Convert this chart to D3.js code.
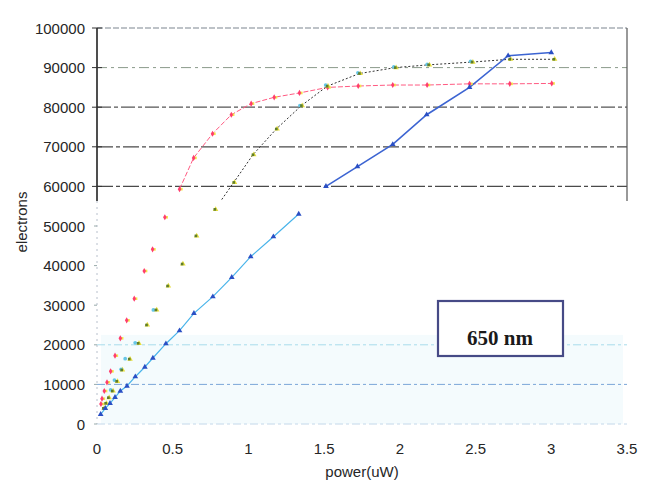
<!DOCTYPE html>
<html><head><meta charset="utf-8">
<script src="https://cdn.jsdelivr.net/npm/d3@7"></script>
<style>body{margin:0;background:#fff}svg{display:block}</style>
</head><body>
<script>
// ---- data ----
const xTicks = [0, 0.5, 1, 1.5, 2, 2.5, 3, 3.5];
const xTickLabels = ["0", "0.5", "1", "1.5", "2", "2.5", "3", "3.5"];
const yTicks = [0, 10000, 20000, 30000, 40000, 50000, 60000, 70000, 80000, 90000, 100000];
const yTickLabels = ["0", "10000", "20000", "30000", "40000", "50000", "60000", "70000", "80000", "90000", "100000"];

const pinkLowerX = [0.026, 0.033, 0.048, 0.066, 0.090, 0.119, 0.154, 0.196, 0.246, 0.312, 0.367, 0.448];
const pinkLowerY = [5050, 6390, 8330, 10530, 13300, 17250, 21640, 26180, 31640, 38640, 44100, 52200];
const pinkUpperX = [0.545, 0.638, 0.763, 0.887, 1.018, 1.17, 1.337, 1.523, 1.725, 1.953, 2.18, 2.46, 2.726, 3.003];
const pinkUpperY = [59300, 67200, 73300, 78100, 80900, 82500, 83600, 85000, 85350, 85600, 85600, 85900, 85900, 86000];

const greenLowerX = [0.042, 0.057, 0.075, 0.101, 0.13, 0.163, 0.213, 0.272, 0.327, 0.389, 0.466, 0.562, 0.653, 0.778];
const greenLowerY = [3960, 5230, 6640, 8330, 10780, 13640, 16400, 20380, 25000, 28800, 34850, 40400, 47500, 54200];
const greenUpperX = [0.778, 0.903, 1.03, 1.184, 1.35, 1.52, 1.733, 1.97, 2.19, 2.477, 2.726, 3.017];
const greenUpperY = [54200, 61000, 68000, 74500, 80400, 85300, 88500, 90000, 90700, 91400, 92100, 92100];

const cyanX = [0.1, 0.125, 0.169, 0.196, 0.262, 0.382, 1.35, 1.52, 1.733, 1.97, 2.19, 2.477];
const cyanY = [8600, 11100, 13800, 16500, 20500, 28800, 80400, 85600, 88700, 90200, 90800, 91600];

const blueLowerX = [0.024, 0.055, 0.086, 0.119, 0.154, 0.198, 0.253, 0.316, 0.369, 0.455, 0.545, 0.64, 0.765, 0.89, 1.015, 1.165, 1.332];
const blueLowerY = [2450, 3960, 5230, 6740, 8330, 9600, 11940, 14390, 16670, 20280, 23560, 27950, 32150, 37040, 42250, 47300, 53030];
const blueUpperX = [1.512, 1.72, 1.953, 2.177, 2.46, 2.715, 3.0];
const blueUpperY = [60000, 65000, 70600, 78100, 85000, 93000, 93800];

const upperGrid = [60000, 70000, 80000, 90000, 100000];
const lowerGrid = [0, 10000, 20000];
const boxLabel = "650 nm";
const xTitle = "power(uW)";
const yTitle = "electrons";

// ---- drawing ----
const W = 660, H = 484;
const L = 97, R = 627, T = 28, B = 424;
const splitY = 201;
const svg = d3.select("body").append("svg").attr("width", W).attr("height", H);
const x = d3.scaleLinear().domain([0, 3.5]).range([L, R]);
const y = d3.scaleLinear().domain([0, 100000]).range([B, T]);
const zip = (xs, ys) => xs.map((v, i) => [v, ys[i]]);

// faint tinted lower region (scan tint)
svg.append("rect").attr("x", L + 4).attr("y", y(22500)).attr("width", R - L - 8).attr("height", B - y(22500))
  .attr("fill", "#f4fbfd");

svg.append("defs").append("clipPath").attr("id", "upclip")
  .append("rect").attr("x", L).attr("y", T - 5).attr("width", R - L + 10).attr("height", splitY - T + 5);

// upper gridlines
const ugStyle = {60000: ["#4a4a4a", "16,3,4,3"], 70000: ["#4a4a4a", "16,3,4,3"], 80000: ["#555", "14,3,4,3"], 90000: ["#8a9a8a", "10,4,3,4"], 100000: ["#7d8590", "6,2"]};
svg.append("g").selectAll("line").data(upperGrid).join("line")
  .attr("x1", L).attr("x2", R).attr("y1", d => y(d)).attr("y2", d => y(d))
  .attr("stroke", d => ugStyle[d][0]).attr("stroke-width", d => d === 90000 ? 1 : 1.2)
  .attr("stroke-dasharray", d => ugStyle[d][1]);
// lower gridlines
svg.append("g").selectAll("line").data(lowerGrid).join("line")
  .attr("x1", L).attr("x2", R).attr("y1", d => y(d)).attr("y2", d => y(d))
  .attr("stroke", d => d === 10000 ? "#7aa6d8" : (d === 0 ? "#c4d8ea" : "#a9dcec")).attr("stroke-width", 1)
  .attr("stroke-dasharray", "8,3,3,3");

// frame
svg.append("line").attr("x1", L).attr("x2", L).attr("y1", T).attr("y2", splitY).attr("stroke", "#222").attr("stroke-width", 1.6);
svg.append("line").attr("x1", L).attr("x2", L).attr("y1", splitY).attr("y2", B).attr("stroke", "#b8c0cc").attr("stroke-width", 1).attr("stroke-dasharray", "2,4");
svg.append("line").attr("x1", R).attr("x2", R).attr("y1", T).attr("y2", splitY).attr("stroke", "#555").attr("stroke-width", 1.2);
svg.append("g").selectAll("line").data(yTicks).join("line")
  .attr("x1", d => d >= 60000 ? L - 5 : L - 3).attr("x2", d => d >= 60000 ? L + 5 : L)
  .attr("y1", d => y(d)).attr("y2", d => y(d))
  .attr("stroke", d => d >= 60000 ? "#333" : "#9aa").attr("stroke-width", 1);

// y tick labels
svg.append("g").selectAll("text").data(yTicks).join("text")
  .attr("x", 85).attr("y", d => y(d) + 5.5).attr("text-anchor", "end")
  .attr("font-family", "Liberation Sans, Arial, sans-serif").attr("font-size", 15).attr("fill", "#262626")
  .text((d, i) => yTickLabels[i]);
// x tick labels
svg.append("g").selectAll("text").data(xTicks).join("text")
  .attr("x", d => x(d)).attr("y", 454).attr("text-anchor", "middle")
  .attr("font-family", "Liberation Sans, Arial, sans-serif").attr("font-size", 15).attr("fill", "#262626")
  .text((d, i) => xTickLabels[i]);
svg.append("text").attr("x", 362).attr("y", 477).attr("text-anchor", "middle")
  .attr("font-family", "Liberation Sans, Arial, sans-serif").attr("font-size", 15).attr("fill", "#262626").text(xTitle);
svg.append("text").attr("transform", "translate(27,222) rotate(-90)").attr("text-anchor", "middle")
  .attr("font-family", "Liberation Sans, Arial, sans-serif").attr("font-size", 15).attr("fill", "#262626").text(yTitle);

// lines
const line = d3.line().x(d => x(d[0])).y(d => y(d[1]));
svg.append("path").datum(zip(blueLowerX, blueLowerY)).attr("d", line)
  .attr("fill", "none").attr("stroke", "#49b4ea").attr("stroke-width", 1.2);
const up = svg.append("g").attr("clip-path", "url(#upclip)");
up.append("path").datum(zip(pinkUpperX, pinkUpperY)).attr("d", line)
  .attr("fill", "none").attr("stroke", "#ff5a82").attr("stroke-width", 1).attr("stroke-dasharray", "5,2");
up.append("path").datum(zip(greenUpperX, greenUpperY)).attr("d", line)
  .attr("fill", "none").attr("stroke", "#333").attr("stroke-width", 1).attr("stroke-dasharray", "2,2");
up.append("path").datum(zip(blueUpperX, blueUpperY)).attr("d", line)
  .attr("fill", "none").attr("stroke", "#3c64d2").attr("stroke-width", 1.6);

// markers
function markers(data, type, size, fill, dx) {
  svg.append("g").selectAll("path").data(data).join("path")
    .attr("transform", d => `translate(${x(d[0]) + dx},${y(d[1])})`)
    .attr("d", d3.symbol().type(type).size(size)).attr("fill", fill);
}
const pinkAll = zip(pinkLowerX, pinkLowerY).concat(zip(pinkUpperX, pinkUpperY));
const greenAll = zip(greenLowerX, greenLowerY).concat(zip(greenUpperX.slice(1), greenUpperY.slice(1)));
markers(pinkAll, d3.symbolSquare, 7, "#f2e84a", 1.8);
markers(pinkAll, d3.symbolDiamond, 11, "#ff3d6e", 0);
markers(greenAll, d3.symbolTriangle, 13, "#e6de3a", 0.8);
markers(zip(cyanX, cyanY), d3.symbolCircle, 11, "#66c6e6", -1.5);
markers(greenAll, d3.symbolSquare, 7, "#5f7d2c", 0);
markers(zip(blueLowerX, blueLowerY).concat(zip(blueUpperX, blueUpperY)), d3.symbolTriangle, 14, "#2a4fc4", 0);

// label box
svg.append("rect").attr("x", 438).attr("y", 301).attr("width", 125).attr("height", 55)
  .attr("fill", "#fff").attr("stroke", "#464a86").attr("stroke-width", 2.2);
svg.append("text").attr("x", 500).attr("y", 345).attr("text-anchor", "middle")
  .attr("font-family", "Liberation Serif, Times New Roman, serif").attr("font-weight", "bold")
  .attr("font-size", 21).attr("fill", "#1a1a1a").text(boxLabel);
</script>
</body></html>
